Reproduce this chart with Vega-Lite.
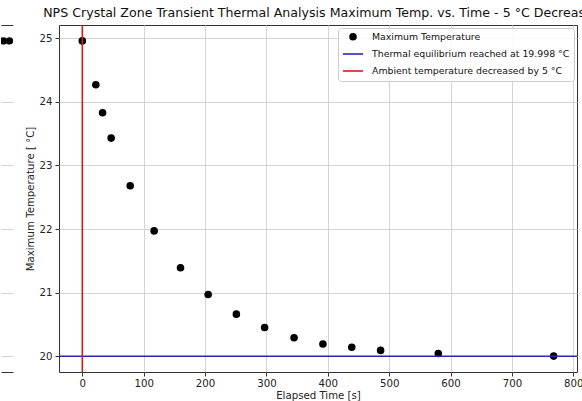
{
  "$schema": "https://vega.github.io/schema/vega-lite/v6.json",
  "background": "white",
  "padding": {"left": 0, "top": 6, "right": 0, "bottom": 0},
  "spacing": 11,
  "config": {
    "font": "DejaVu Sans",
    "view": {"stroke": null},
    "axis": {
      "labelFont": "DejaVu Sans",
      "titleFont": "DejaVu Sans",
      "labelFontSize": 10.2,
      "titleFontSize": 10.2,
      "labelColor": "#222222",
      "titleColor": "#222222",
      "titleFontWeight": "normal",
      "gridColor": "#d4d4d4",
      "gridWidth": 1,
      "tickColor": "#333333",
      "domainColor": "#333333"
    },
    "legend": {
      "orient": "top-right",
      "offset": 3,
      "padding": 4,
      "rowPadding": -3,
      "labelOffset": 8,
      "labelFont": "DejaVu Sans",
      "labelFontSize": 9.35,
      "labelColor": "#111111",
      "labelLimit": 400,
      "fillColor": "rgba(255,255,255,0.85)",
      "strokeColor": "#cccccc",
      "cornerRadius": 3,
      "symbolStrokeWidth": 1.6,
      "symbolOpacity": 1
    }
  },
  "resolve": {
    "scale": {"color": "independent", "shape": "independent", "size": "independent"},
    "legend": {"color": "independent", "shape": "independent", "size": "independent"}
  },
  "hconcat": [
    {
      "width": 12,
      "height": 347,
      "data": {"values": [{"s": 2.5, "T": 24.96}, {"s": 8.5, "T": 24.96}]},
      "layer": [
        {
          "mark": {"type": "point", "filled": true, "color": "black", "size": 55, "opacity": 1, "clip": true},
          "encoding": {
            "x": {"field": "s", "type": "quantitative", "scale": {"domain": [0, 12], "nice": false, "zero": false},
                  "axis": {"orient": "bottom", "domain": true, "ticks": false, "labels": false, "grid": false, "title": null}},
            "y": {"field": "T", "type": "quantitative", "scale": {"domain": [19.75, 25.21], "nice": false, "zero": false},
                  "axis": {"grid": true, "values": [20, 21, 22, 23, 24], "labels": false, "ticks": false, "domain": false, "title": null}}
          }
        },
        {
          "mark": {"type": "point", "opacity": 0},
          "encoding": {
            "x": {"field": "s", "type": "quantitative",
                  "axis": {"orient": "top", "domain": true, "ticks": false, "labels": false, "grid": false, "title": null}},
            "y": {"field": "T", "type": "quantitative"}
          }
        }
      ],
      "resolve": {"axis": {"x": "independent"}}
    },
    {
      "width": 518,
      "height": 347,
      "title": {
        "text": "NPS Crystal Zone Transient Thermal Analysis Maximum Temp. vs. Time - 5 °C Decrease",
        "font": "DejaVu Sans",
        "fontSize": 12.6,
        "fontWeight": "normal",
        "color": "#111111",
        "anchor": "middle",
        "frame": "group",
        "offset": 5
      },
      "view": {"stroke": "#333333", "strokeWidth": 1},
      "layer": [
        {
          "data": {"values": [
            {"t": 0, "T": 24.96},
            {"t": 22, "T": 24.27},
            {"t": 33, "T": 23.83},
            {"t": 47, "T": 23.43},
            {"t": 78, "T": 22.68},
            {"t": 117, "T": 21.97},
            {"t": 160, "T": 21.39},
            {"t": 205, "T": 20.97},
            {"t": 251, "T": 20.66},
            {"t": 297, "T": 20.45},
            {"t": 345, "T": 20.29},
            {"t": 392, "T": 20.19},
            {"t": 439, "T": 20.14},
            {"t": 486, "T": 20.09},
            {"t": 580, "T": 20.04},
            {"t": 768, "T": 20.0}
          ]},
          "mark": {"type": "point", "filled": false, "fill": "black", "fillOpacity": 1, "strokeWidth": 1.6, "opacity": 1},
          "encoding": {
            "x": {"field": "t", "type": "quantitative",
                  "scale": {"domain": [-38, 806], "nice": false, "zero": false},
                  "axis": {"title": "Elapsed Time [s]", "values": [0, 100, 200, 300, 400, 500, 600, 700, 800], "format": "d",
                           "grid": true, "tickSize": 4, "labelPadding": 2, "titlePadding": 2, "domain": false}},
            "y": {"field": "T", "type": "quantitative",
                  "scale": {"domain": [19.75, 25.21], "nice": false, "zero": false},
                  "axis": {"title": "Maximum Temperature [ °C]", "values": [20, 21, 22, 23, 24, 25], "format": "d",
                           "grid": true, "tickSize": 4, "labelPadding": 3, "titlePadding": 4, "domain": false}},
            "color": {
              "datum": "Maximum Temperature",
              "type": "nominal",
              "scale": {
                "domain": ["Maximum Temperature", "Thermal equilibrium reached at 19.998 °C", "Ambient temperature decreased by 5 °C"],
                "range": ["#000000", "#2a2aa8", "#d01c1c"]
              },
              "legend": {"title": null}
            },
            "shape": {
              "datum": "Maximum Temperature",
              "type": "nominal",
              "scale": {
                "domain": ["Maximum Temperature", "Thermal equilibrium reached at 19.998 °C", "Ambient temperature decreased by 5 °C"],
                "range": ["circle", "stroke", "stroke"]
              },
              "legend": {"title": null}
            },
            "size": {
              "datum": "Maximum Temperature",
              "type": "nominal",
              "scale": {
                "type": "ordinal",
                "domain": ["Maximum Temperature", "Thermal equilibrium reached at 19.998 °C", "Ambient temperature decreased by 5 °C"],
                "range": [36, 400, 400]
              },
              "legend": {"title": null}
            }
          }
        },
        {
          "data": {"values": [{"T_eq": 19.998}]},
          "mark": {"type": "rule", "strokeWidth": 1.6},
          "encoding": {
            "y": {"field": "T_eq", "type": "quantitative"},
            "color": {"datum": "Thermal equilibrium reached at 19.998 °C", "type": "nominal"}
          }
        },
        {
          "data": {"values": [{"t0": 0}]},
          "mark": {"type": "rule", "strokeWidth": 1.6},
          "encoding": {
            "x": {"field": "t0", "type": "quantitative"},
            "color": {"datum": "Ambient temperature decreased by 5 °C", "type": "nominal"}
          }
        }
      ]
    }
  ]
}
